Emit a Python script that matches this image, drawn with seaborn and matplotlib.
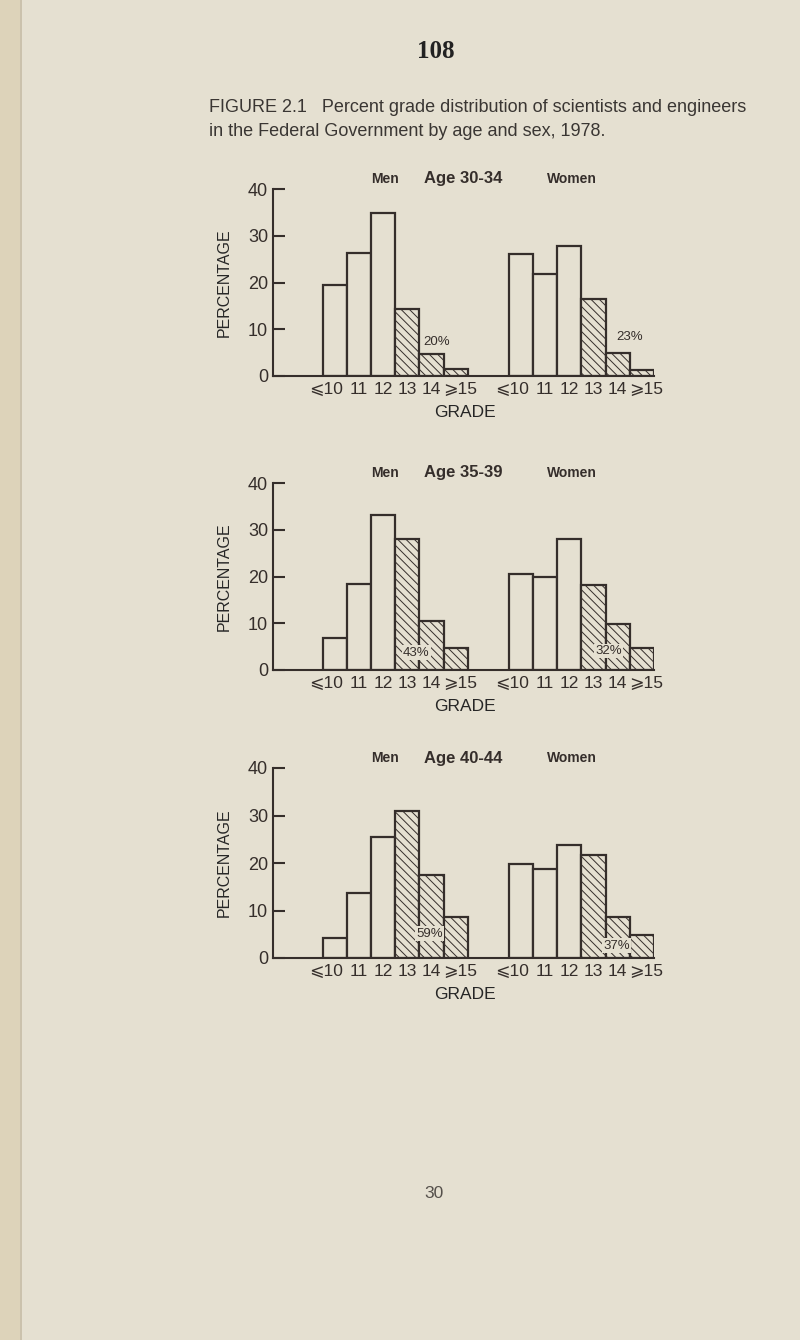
import numpy as np
import pandas as pd
import seaborn as sns
import matplotlib.pyplot as plt
from matplotlib.patches import Rectangle
from matplotlib.transforms import ScaledTranslation

# grade categories (same for men and women)
grades = ['⩽10', '11', '12', '13', '14', '⩾15']
shaded_grades = ['13', '14', '⩾15']
age_groups = ['30-34', '35-39', '40-44']

# percent of each group in each grade
men_30_34 = [19.4, 26.4, 34.9, 14.3, 4.6, 1.5]
women_30_34 = [26.0, 21.9, 27.9, 16.5, 4.9, 1.3]
men_35_39 = [6.8, 18.5, 33.2, 28.1, 10.4, 4.8]
women_35_39 = [20.5, 19.8, 28.1, 18.1, 9.8, 4.8]
men_40_44 = [4.2, 13.6, 25.4, 31.0, 17.5, 8.6]
women_40_44 = [19.8, 18.7, 23.7, 21.6, 8.6, 4.9]

# printed share in grades 13 and above
share_men = ['20%', '43%', '59%']
share_women = ['23%', '32%', '37%']

PAPER = '#e5e0d1'
INK = '#352e2b'
W, H = 800, 1340

sns.set_style('ticks')
plt.rcParams['font.family'] = ['Liberation Sans', 'DejaVu Sans']
plt.rcParams['hatch.linewidth'] = 0.7
plt.rcParams['axes.edgecolor'] = INK
plt.rcParams['text.color'] = INK
plt.rcParams['xtick.color'] = INK
plt.rcParams['ytick.color'] = INK

fig = plt.figure(figsize=(W / 100, H / 100), dpi=100, facecolor=PAPER)

# panel boxes in page pixels: (y of 40, y of 0)
panels = [(189, 376), (483, 670), (768, 958)]
ax_left, ax_right = 273, 654
men_x0, women_x0 = 2.55, 10.25
x_max = 15.75

men_data = [men_30_34, men_35_39, men_40_44]
women_data = [women_30_34, women_35_39, women_40_44]
# label spots (x in bar units, y in percent)
men_lab_xy = [(6.76, 7.3), (5.93, 3.7), (6.46, 5.1)]
women_lab_xy = [(14.75, 8.3), (13.86, 4.1), (14.2, 2.6)]

shift_left = ScaledTranslation(-0.09, 0, fig.dpi_scale_trans)
shift_right = ScaledTranslation(0.04, 0, fig.dpi_scale_trans)

for i, (top, bot) in enumerate(panels):
    ax = fig.add_axes([ax_left / W, 1 - bot / H, (ax_right - ax_left) / W, (bot - top) / H])
    ax.set_facecolor(PAPER)
    n = len(grades)
    df = pd.DataFrame({
        'pos': np.r_[men_x0 + np.arange(n), women_x0 + np.arange(n)],
        'pct': men_data[i] + women_data[i],
        'grade': grades * 2,
    })
    sns.barplot(data=df, x='pos', y='pct', native_scale=True, width=1.0,
                color=PAPER, saturation=1, edgecolor=INK, linewidth=1.6,
                errorbar=None, ax=ax)
    bars = sorted(ax.patches, key=lambda p: p.get_x())
    for p, g in zip(bars, df.sort_values('pos')['grade']):
        if g in shaded_grades:
            p.set_hatch('\\\\\\\\')

    ax.set_xlim(0, x_max)
    ax.set_ylim(0, 40)
    ax.set_yticks([0, 10, 20, 30, 40])
    ax.set_xticks(df['pos'])
    ax.set_xticklabels(df['grade'])
    ax.tick_params(axis='y', direction='in', length=8.5, width=1.5, pad=3.5, labelsize=13)
    ax.tick_params(axis='x', length=0, pad=4, labelsize=12.5)
    # the wide end labels sit a little off their bars
    for lab in ax.get_xticklabels():
        if lab.get_text() == grades[0]:
            lab.set_transform(lab.get_transform() + shift_left)
        elif lab.get_text() == grades[-1]:
            lab.set_transform(lab.get_transform() + shift_right)
    sns.despine(ax=ax)
    for s in ['left', 'bottom']:
        ax.spines[s].set_linewidth(1.5)

    ax.set_ylabel('PERCENTAGE', fontsize=11.5, va='center')
    ax.yaxis.set_label_coords(-0.1286, 0.5)
    ax.set_xlabel('GRADE', fontsize=12.5, va='top')
    ax.xaxis.set_label_coords(0.505, -29 / (bot - top))

    ty = 1 + 10 / (bot - top)
    ax.text(0.294, ty, 'Men', transform=ax.transAxes, ha='center', va='center',
            fontsize=10, fontweight='bold')
    ax.text(0.5, ty, 'Age ' + age_groups[i], transform=ax.transAxes, ha='center',
            va='center', fontsize=12, fontweight='bold')
    ax.text(0.785, ty, 'Women', transform=ax.transAxes, ha='center', va='center',
            fontsize=10, fontweight='bold')

    box = dict(boxstyle='square,pad=0.1', fc=PAPER, ec='none')
    ax.text(*men_lab_xy[i], share_men[i], ha='center', va='center', fontsize=9.5,
            bbox=box, zorder=5)
    ax.text(*women_lab_xy[i], share_women[i], ha='center', va='center', fontsize=9.5,
            bbox=box, zorder=5)

# page furniture
fig.text(436 / W, 1 - 51 / H, '108', ha='center', va='center', fontsize=18,
         fontweight='bold', family='Liberation Serif', color='#222')
fig.text(209 / W, 1 - 108 / H,
         'FIGURE 2.1   Percent grade distribution of scientists and engineers',
         ha='left', va='center', fontsize=13, color='#3a3633')
fig.text(209 / W, 1 - 132 / H, 'in the Federal Government by age and sex, 1978.',
         ha='left', va='center', fontsize=13, color='#3a3633')
fig.text(434 / W, 1 - 1194 / H, '30', ha='center', va='center', fontsize=12.5,
         color='#55504b')

# scanned page edge
fig.patches.append(Rectangle((0, 0), 20 / W, 1, transform=fig.transFigure,
                             fc='#ddd3ba', ec='none', zorder=-1))
fig.patches.append(Rectangle((20 / W, 0), 2 / W, 1, transform=fig.transFigure,
                             fc='#cbc2ad', ec='none', zorder=-1))

fig.savefig('out.png', dpi=100, facecolor=PAPER)
